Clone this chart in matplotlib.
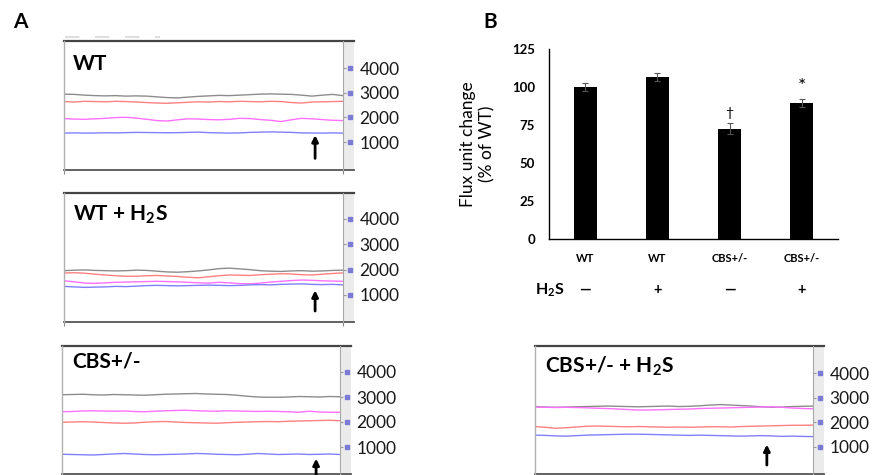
import numpy as np
import matplotlib
matplotlib.use('Agg')
import matplotlib.pyplot as plt
from matplotlib.patches import Rectangle
from matplotlib.lines import Line2D

plt.rcParams['font.family'] = ['Lato', 'DejaVu Sans']
plt.rcParams['mathtext.default'] = 'regular'

# ---- A: laser Doppler flux traces (flux units) ----
flux_ticks = [1000, 2000, 3000, 4000]
trace_colors = ['#8c8c8c', '#ff8080', '#ff70ff', '#8080ff']

# WT
wt_gray = [2940, 2930, 2900, 2880, 2870, 2880, 2860, 2870, 2860, 2830, 2800, 2790, 2820, 2850,
           2870, 2890, 2880, 2900, 2920, 2940, 2950, 2940, 2930, 2900, 2860, 2900, 2930, 2880]
wt_red = [2640, 2620, 2650, 2640, 2630, 2650, 2640, 2620, 2600, 2580, 2570, 2590, 2610, 2630,
          2620, 2640, 2630, 2650, 2640, 2630, 2650, 2640, 2600, 2580, 2620, 2630, 2640, 2650]
wt_pink = [1950, 1930, 1920, 1940, 1960, 1990, 2000, 1970, 1920, 1870, 1850, 1900, 1940, 1930,
           1910, 1900, 1920, 1960, 1950, 1910, 1880, 1830, 1900, 1960, 1940, 1910, 1880, 1870]
wt_blue = [1360, 1370, 1360, 1365, 1375, 1370, 1380, 1390, 1385, 1380, 1375, 1380, 1390, 1400,
           1380, 1370, 1360, 1370, 1390, 1400, 1410, 1400, 1390, 1370, 1365, 1360, 1370, 1360]

# WT + H2S
wth_gray = [1960, 1980, 1990, 1970, 1960, 1950, 1960, 1980, 1970, 1940, 1910, 1900, 1920, 1950,
            1990, 2040, 2060, 2030, 2000, 1960, 1940, 1930, 1950, 1960, 1940, 1950, 1970, 1980]
wth_red = [1870, 1880, 1860, 1820, 1790, 1760, 1740, 1740, 1760, 1770, 1750, 1730, 1700, 1680,
           1720, 1760, 1790, 1780, 1770, 1800, 1820, 1840, 1830, 1800, 1790, 1820, 1850, 1870]
wth_pink = [1560, 1520, 1470, 1460, 1480, 1500, 1510, 1520, 1530, 1540, 1530, 1520, 1500, 1480,
            1470, 1500, 1480, 1450, 1440, 1470, 1510, 1540, 1570, 1590, 1580, 1560, 1550, 1540]
wth_blue = [1340, 1320, 1300, 1310, 1320, 1340, 1330, 1350, 1370, 1380, 1370, 1360, 1370, 1380,
            1390, 1380, 1370, 1380, 1400, 1410, 1400, 1420, 1430, 1440, 1420, 1410, 1420, 1400]

# CBS+/-
cbs_gray = [3090, 3100, 3110, 3090, 3080, 3100, 3090, 3080, 3070, 3090, 3110, 3120, 3130, 3140,
            3120, 3110, 3100, 3070, 3030, 3000, 2990, 2990, 3000, 3020, 3010, 3000, 3020, 3010]
cbs_red = [1990, 2000, 2010, 2000, 1980, 1960, 1950, 1960, 1990, 2010, 2020, 2000, 1980, 1970,
           1960, 1950, 1970, 1990, 2000, 2010, 2020, 2010, 2030, 2040, 2050, 2060, 2070, 2050]
cbs_pink = [2410, 2420, 2440, 2450, 2440, 2430, 2440, 2420, 2410, 2430, 2450, 2460, 2470, 2450,
            2440, 2430, 2450, 2440, 2430, 2420, 2430, 2420, 2410, 2390, 2430, 2400, 2390, 2390]
cbs_blue = [710, 700, 690, 680, 700, 720, 740, 720, 700, 690, 700, 710, 720, 740,
            730, 710, 700, 690, 710, 740, 720, 700, 710, 720, 700, 710, 720, 700]

# CBS+/- + H2S
cbsh_gray = [2640, 2620, 2610, 2620, 2630, 2640, 2650, 2660, 2650, 2640, 2630, 2640, 2650, 2660,
             2640, 2650, 2670, 2700, 2720, 2700, 2680, 2660, 2630, 2610, 2620, 2640, 2650, 2660]
cbsh_red = [1830, 1800, 1760, 1780, 1810, 1840, 1850, 1840, 1830, 1820, 1830, 1820, 1810, 1800,
            1810, 1800, 1810, 1820, 1820, 1810, 1830, 1840, 1850, 1860, 1870, 1880, 1880, 1890]
cbsh_pink = [2620, 2610, 2600, 2610, 2600, 2590, 2570, 2560, 2540, 2520, 2500, 2500, 2510, 2520,
             2530, 2540, 2560, 2570, 2580, 2590, 2600, 2610, 2620, 2630, 2610, 2580, 2560, 2550]
cbsh_blue = [1480, 1470, 1450, 1440, 1460, 1480, 1490, 1500, 1510, 1520, 1520, 1510, 1500, 1490,
             1480, 1470, 1480, 1470, 1460, 1450, 1440, 1450, 1460, 1450, 1430, 1440, 1430, 1420]

# ---- B: flux unit change (% of WT) ----
genotypes = ['WT', 'WT', 'CBS+/-', 'CBS+/-']
h2s_marks = ['\u2014', '+', '\u2014', '+']
flux_pct = [100, 106.8, 72.6, 89.5]
flux_err = [2.6, 2.6, 3.5, 2.6]
sig_marks = ['', '', '\u2020', '*']

W, H = 878, 475
fig = plt.figure(figsize=(W / 100, H / 100), dpi=100)


def add_px_axes(x0, y0, x1, y1):
    # pixel box (left, top, right, bottom) -> figure axes
    return fig.add_axes([x0 / W, 1 - y1 / H, (x1 - x0) / W, (y1 - y0) / H])


def trace_panel(box, ylim, title, title_xy, arrow_x, arrow_y, traces):
    ax = add_px_axes(*box)
    wpx = box[2] - box[0]
    strip = 11 / wpx
    for vals, col in zip(traces, trace_colors):
        t = np.linspace(0, 1, len(vals))
        ax.plot(t, vals, color=col, lw=1.0)
    # right grey strip with square markers
    ax.add_patch(Rectangle((1, 0), strip, 1, transform=ax.transAxes, facecolor='#ebebeb',
                           edgecolor='none', clip_on=False, zorder=0))
    ax.plot(np.full(len(flux_ticks), 1 + 7 / wpx), flux_ticks, 's', ms=3, color='#7b7bd6',
            transform=ax.get_yaxis_transform(), clip_on=False)
    for yy, c, lw in [(1, '#444444', 1.6), (0, '#555555', 1.3)]:
        ax.add_line(Line2D([0, 1 + strip], [yy, yy], transform=ax.transAxes, color=c, lw=lw,
                           clip_on=False))
    ax.set_xlim(0, 1)
    ax.set_ylim(*ylim)
    for s in ['top', 'bottom']:
        ax.spines[s].set_visible(False)
    ax.spines['left'].set_color('#b0b0b0')
    ax.spines['right'].set_color('#a8a8a8')
    ax.spines['left'].set_linewidth(1)
    ax.spines['right'].set_linewidth(0.8)
    ax.yaxis.tick_right()
    ax.set_yticks(flux_ticks)
    ax.set_yticklabels([str(v) for v in flux_ticks])
    ax.tick_params(axis='y', length=2, width=0.8, color='#999999', pad=10,
                   labelsize=12.5, labelcolor='#1a1a1a')
    ax.set_xticks([0, 1])
    ax.set_xticklabels([])
    ax.tick_params(axis='x', length=3, width=0.8, color='#888888')
    ax.text(title_xy[0], title_xy[1], title, transform=ax.transAxes, fontsize=15,
            fontweight='bold', va='baseline', ha='left')
    ax.annotate('', xy=(arrow_x, arrow_y[1]), xytext=(arrow_x, arrow_y[0]),
                xycoords='axes fraction', annotation_clip=False,
                arrowprops=dict(arrowstyle='-|>', color='black', lw=2, mutation_scale=9,
                                shrinkA=0, shrinkB=0))
    return ax


trace_panel((64, 41, 343, 170), (-135, 5095), 'WT', (0.032, 0.775), 0.90, (0.09, 0.27),
            [wt_gray, wt_red, wt_pink, wt_blue])
trace_panel((64, 193, 343, 322), (-66, 5026), 'WT + H$_2$S', (0.032, 0.783), 0.90, (0.085, 0.245),
            [wth_gray, wth_red, wth_pink, wth_blue])
trace_panel((62, 346, 340, 474), (-80, 5040), 'CBS+/-', (0.036, 0.83), 0.914, (-0.08, 0.12),
            [cbs_gray, cbs_red, cbs_pink, cbs_blue])
trace_panel((535, 346, 813, 474), (-95, 5095), 'CBS+/- + H$_2$S', (0.036, 0.79), 0.834, (0.07, 0.23),
            [cbsh_gray, cbsh_red, cbsh_pink, cbsh_blue])

# faint dashes above the first trace window
fig.add_artist(Line2D([65 / W, 160 / W], [1 - 37 / H] * 2, color='#d8d8d8', lw=1.2,
                      ls=(0, (8.6, 9.4))))

fig.text(20 / W, 1 - 22 / H, 'A', fontsize=15, fontweight='bold', ha='center', va='center')
fig.text(490 / W, 1 - 22 / H, 'B', fontsize=15, fontweight='bold', ha='center', va='center')

# ---- panel B ----
axb = add_px_axes(549, 49, 838, 239)
x = np.arange(len(flux_pct))
axb.bar(x, flux_pct, width=0.32, color='black', yerr=flux_err,
        error_kw=dict(ecolor='#555555', elinewidth=0.8, capsize=2.5, capthick=0.8))
for i, m in enumerate(sig_marks):
    if m:
        axb.annotate(m, (x[i], flux_pct[i] + flux_err[i]), xytext=(0, 3),
                     textcoords='offset points', ha='center', va='bottom',
                     fontsize=10 if m != '*' else 14)
axb.set_xlim(-0.5, 3.5)
axb.set_ylim(0, 125)
axb.set_yticks(np.arange(0, 126, 25))
axb.set_xticks([])
for s in ['top', 'right']:
    axb.spines[s].set_visible(False)
for s in ['left', 'bottom']:
    axb.spines[s].set_color('black')
    axb.spines[s].set_linewidth(1)
axb.tick_params(axis='y', length=0, pad=10, labelsize=9.5)
for lab in axb.get_yticklabels():
    lab.set_fontweight('bold')
axb.set_ylabel('Flux unit change\n(% of WT)', fontsize=12.5, linespacing=1.25)
axb.yaxis.set_label_coords(-0.187, 0.5)
for i, (g, h) in enumerate(zip(genotypes, h2s_marks)):
    axb.text(x[i], -0.105, g, transform=axb.get_xaxis_transform(), ha='center', va='center',
             fontsize=8, fontweight='bold')
    axb.text(x[i], -0.268, h, transform=axb.get_xaxis_transform(), ha='center', va='center',
             fontsize=10.5, fontweight='bold')
axb.text(-0.49, -0.268, 'H$_2$S', transform=axb.get_xaxis_transform(), ha='center', va='center',
         fontsize=11.5, fontweight='bold')

fig.savefig('out.png', dpi=100)
